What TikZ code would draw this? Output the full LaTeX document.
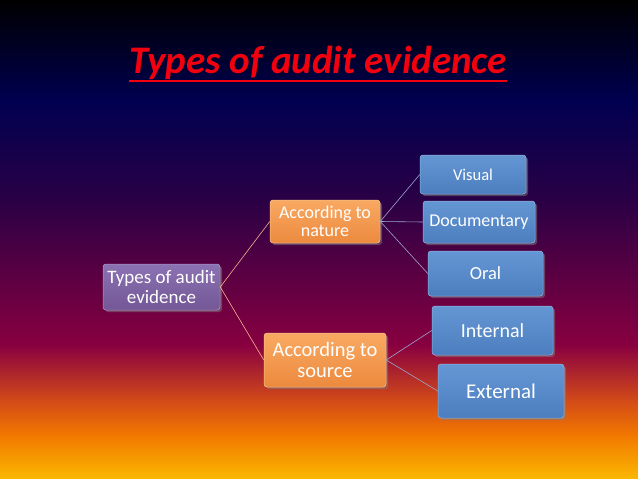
\documentclass[tikz,border=0pt]{standalone}
\usepackage{fontspec}
\setmainfont{Carlito}
\usepackage{xcolor}
\definecolor{titlered}{HTML}{F2000E}
\definecolor{bgA}{HTML}{000000}
\definecolor{bgB}{HTML}{000050}
\definecolor{bgC}{HTML}{2A0045}
\definecolor{bgD}{HTML}{880040}
\definecolor{bgE}{HTML}{D24A18}
\definecolor{bgF}{HTML}{F27800}
\definecolor{bgG}{HTML}{FAB800}
\definecolor{purpletop}{HTML}{8B72B2}
\definecolor{purplebot}{HTML}{735796}
\definecolor{orangetop}{HTML}{F9A962}
\definecolor{orangebot}{HTML}{EC8A3E}
\definecolor{bluetop}{HTML}{6596D4}
\definecolor{bluebot}{HTML}{4C7EBF}
\definecolor{peach}{HTML}{F2B48E}
\definecolor{greyblue}{HTML}{9AA6CE}
\usepackage{tikz}
\usetikzlibrary{shadows}

\begin{document}
\begin{tikzpicture}[x=1pt,y=-1pt,
  box/.style={rounded corners=3pt,inner sep=0pt,align=center,text=white,
    line width=0.5pt,drop shadow={shadow xshift=2pt,shadow yshift=-2pt,opacity=.5}},
  rootbox/.style={box,top color=purpletop,bottom color=purplebot,draw=purpletop!70!white},
  orangebox/.style={box,top color=orangetop,bottom color=orangebot,draw=orangetop!70!white},
  bluebox/.style={box,top color=bluetop,bottom color=bluebot,draw=bluetop!70!white},
  link/.style={line width=0.6pt,color=peach},
  sublink/.style={line width=0.6pt,color=greyblue}]
\useasboundingbox (0,0) rectangle (638,479);
% background
\shade[top color=bgA,bottom color=bgB] (0,0) rectangle (638,100.5);
\shade[top color=bgB,bottom color=bgC] (0,100) rectangle (638,200.5);
\shade[top color=bgC,bottom color=bgD] (0,200) rectangle (638,345.5);
\shade[top color=bgD,bottom color=bgE] (0,345) rectangle (638,400.5);
\shade[top color=bgE,bottom color=bgF] (0,400) rectangle (638,435.5);
\shade[top color=bgF,bottom color=bgG] (0,435) rectangle (638,479);
% title
\node[text=titlered,font=\fontsize{39}{42}\selectfont\bfseries\itshape,inner sep=0pt,
  anchor=base] (title) at (318,73) {Types of audit evidence};
\draw[titlered,line width=2.6pt] ([yshift=-8pt]title.base west) -- ([yshift=-8pt]title.base east);
% tree
\node[rootbox,minimum width=117pt,minimum height=46pt,font=\fontsize{19}{19.5}\selectfont]
  (root) at (161.5,287) {Types of audit\\evidence};
\node[orangebox,minimum width=110pt,minimum height=43pt,font=\fontsize{18}{17.5}\selectfont]
  (nature) at (325,221.5) {According to\\nature};
\node[orangebox,minimum width=122pt,minimum height=54pt,font=\fontsize{20.5}{20.5}\selectfont]
  (source) at (325,360) {According to\\source};
\node[bluebox,minimum width=106pt,minimum height=39pt,font=\fontsize{16.5}{16.5}\selectfont]
  (visual) at (473,174.5) {Visual};
\node[bluebox,minimum width=112pt,minimum height=42pt,font=\fontsize{18}{18}\selectfont]
  (documentary) at (479,222) {Documentary};
\node[bluebox,minimum width=115pt,minimum height=45pt,font=\fontsize{18.5}{18.5}\selectfont]
  (oral) at (485.5,273.5) {Oral};
\node[bluebox,minimum width=121pt,minimum height=49pt,font=\fontsize{20}{20}\selectfont]
  (internal) at (492.5,330.5) {Internal};
\node[bluebox,minimum width=126pt,minimum height=54pt,font=\fontsize{21}{21}\selectfont]
  (external) at (501,391) {External};
\draw[link] (root.east) -- (nature.west);
\draw[link] (root.east) -- (source.west);
\draw[sublink] (nature.east) -- (visual.west);
\draw[sublink] (nature.east) -- (documentary.west);
\draw[sublink] (nature.east) -- (oral.west);
\draw[sublink] (source.east) -- (internal.west);
\draw[sublink] (source.east) -- (external.west);
\end{tikzpicture}
\end{document}
